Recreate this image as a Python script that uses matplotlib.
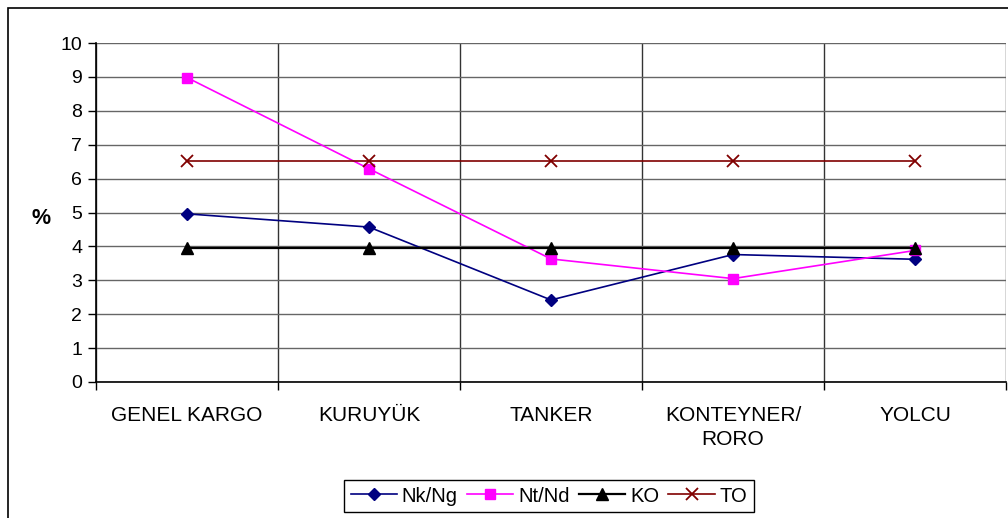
import numpy as np
import matplotlib.pyplot as plt
from matplotlib.patches import Rectangle

plt.rcParams['font.family'] = ['Liberation Sans', 'DejaVu Sans']

categories = ['GENEL KARGO', 'KURUYÜK', 'TANKER', 'KONTEYNER/\nRORO', 'YOLCU']
nk_ng = [4.96, 4.57, 2.42, 3.76, 3.62]
nt_nd = [8.98, 6.29, 3.63, 3.05, 3.88]
ko = [3.95, 3.95, 3.95, 3.95, 3.95]
to = [6.52, 6.52, 6.52, 6.52, 6.52]

x = np.arange(len(categories))

fig = plt.figure(figsize=(10.08, 5.18), dpi=100)
ax = fig.add_axes([96 / 1008, 1 - 382 / 518, 910 / 1008, 339 / 518])

ax.plot(x, nk_ng, color='#000080', lw=1.2, marker='D', ms=6, label='Nk/Ng')
ax.plot(x, nt_nd, color='#FF00FF', lw=1.2, marker='s', ms=7, label='Nt/Nd')
ax.plot(x, ko, color='black', lw=1.6, marker='^', ms=8, label='KO')
ax.plot(x, to, color='#800000', lw=1.2, marker='x', ms=8, mew=1.3, label='TO')

ax.set_xlim(-0.5, len(categories) - 0.5)
ax.set_ylim(0, 10)
ax.set_yticks(range(0, 11))
ax.set_xticks(x)
ax.set_xticklabels(categories, fontsize=15, linespacing=1.35)
ax.set_xticks(np.arange(-0.5, len(categories)), minor=True)
ax.tick_params(axis='x', which='major', length=0, pad=17)
ax.tick_params(axis='x', which='minor', length=6, width=1, color='black', direction='out')
ax.tick_params(axis='y', length=6, width=1, labelsize=14, pad=4)

ax.grid(axis='y', which='major', color='#666666', lw=1)
ax.grid(axis='x', which='minor', color='#333333', lw=1)
ax.set_axisbelow(True)

for s in ['top', 'right']:
    ax.spines[s].set_visible(False)
for s in ['left', 'bottom']:
    ax.spines[s].set_color('black')
    ax.spines[s].set_linewidth(1.2)

fig.text(41 / 1008, 1 - 218 / 518, '%', fontsize=15.5, fontweight='bold',
         ha='center', va='center')

fig.legend(loc='center', bbox_to_anchor=(549 / 1008, 1 - 496 / 518), ncol=4,
           frameon=True, fancybox=False, edgecolor='black', fontsize=14.5,
           handlelength=2.3, handletextpad=0.25, columnspacing=0.45,
           borderpad=0.3, borderaxespad=0, framealpha=1)

# outer chart border
fig.patches.append(Rectangle((8 / 1008, -0.01), 1.1, 1 - 8 / 518 + 0.01,
                             transform=fig.transFigure, fill=False,
                             edgecolor='black', lw=1.2))

fig.savefig('out.png', dpi=100)
